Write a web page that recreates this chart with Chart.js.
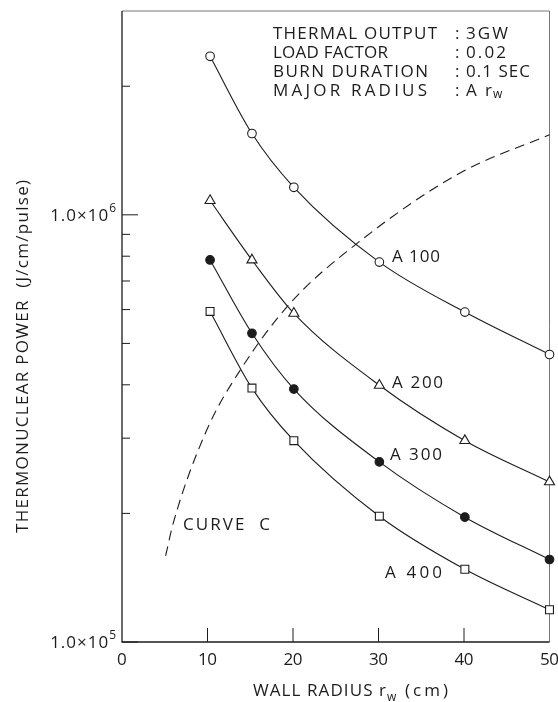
<!DOCTYPE html>
<html>
<head>
<meta charset="utf-8">
<script src="https://cdn.jsdelivr.net/npm/chart.js@4.4.0/dist/chart.umd.min.js"></script>
<style>
body { margin: 0; background: #fff; }
</style>
</head>
<body>
<canvas id="mycanvas" width="558" height="702"></canvas>
<script>
// wall radius (cm) of the measured points
var radius = [10.3, 15.2, 20.1, 30.1, 40.1, 50];
// thermonuclear power (J/cm/pulse) for each aspect factor A
var a100 = [2.35e6, 1.55e6, 1.16e6, 7.75e5, 5.92e5, 4.71e5];
var a200 = [1.08e6, 7.84e5, 5.88e5, 3.99e5, 2.96e5, 2.37e5];
var a300 = [7.84e5, 5.28e5, 3.91e5, 2.64e5, 1.96e5, 1.56e5];
var a400 = [5.94e5, 3.93e5, 2.96e5, 1.97e5, 1.48e5, 1.19e5];
// curve C (dashed)
var curveX = [5.1, 6.0, 9.9, 13.8, 19.65, 27.45, 39.6, 50];
var curveY = [1.59e5, 1.9e5, 3.13e5, 4.32e5, 6.2e5, 8.56e5, 1.255e6, 1.54e6];
// axis ticks
var xTicks = [0, 10, 20, 30, 40, 50];
var yMajor = [1e5, 1e6];
var yMinor = [2e5, 3e5, 4e5, 5e5, 6e5, 7e5, 8e5, 9e5, 2e6];
var yExp = ['5', '6'];
// parameter block
var noteNames = ['THERMAL OUTPUT', 'LOAD FACTOR', 'BURN DURATION', 'MAJOR RADIUS'];
var noteValues = ['3GW', '0.02', '0.1 SEC', 'Ar'];

var FAM = '"Open Sans", "DejaVu Sans", sans-serif';
var F17 = '17px ' + FAM;
var F12 = '12px ' + FAM;
var INK = '#1c1c1c';

function pts(xs, ys) {
	return ys.map(function(v, i) { return {x: xs[i], y: v}; });
}

// draw a string so that it spans the given width
function spaced(ctx, str, x, y, width) {
	var w = [], sum = 0, i;
	for (i = 0; i < str.length; i++) {
		w.push(ctx.measureText(str[i]).width);
		sum += w[i];
	}
	var gap = str.length > 1 ? (width - sum) / (str.length - 1) : 0;
	var cx = x;
	for (i = 0; i < str.length; i++) {
		ctx.fillText(str[i], cx, y);
		cx += w[i] + gap;
	}
}

var frame = {
	id: 'frame',
	beforeDatasetsDraw: function(chart) {
		var ctx = chart.ctx, a = chart.chartArea;
		var xs = chart.scales.x, ys = chart.scales.y;
		ctx.save();
		ctx.strokeStyle = '#777';
		ctx.lineWidth = 1;
		ctx.beginPath();
		ctx.moveTo(a.left, a.top);
		ctx.lineTo(a.right, a.top);
		ctx.lineTo(a.right, a.bottom);
		ctx.stroke();
		ctx.strokeStyle = INK;
		ctx.lineWidth = 1.3;
		ctx.beginPath();
		ctx.moveTo(a.left, a.top);
		ctx.lineTo(a.left, a.bottom);
		ctx.lineTo(a.right, a.bottom);
		ctx.stroke();
		ctx.lineWidth = 1;
		ctx.beginPath();
		xTicks.forEach(function(v) {
			if (v <= 0 || v >= 50) return;
			var px = xs.getPixelForValue(v);
			ctx.moveTo(px, a.bottom);
			ctx.lineTo(px, a.bottom - 14);
		});
		yMinor.forEach(function(v) {
			var py = ys.getPixelForValue(v);
			ctx.moveTo(a.left, py);
			ctx.lineTo(a.left + 8, py);
		});
		yMajor.forEach(function(v) {
			var py = ys.getPixelForValue(v);
			ctx.moveTo(a.left, py);
			ctx.lineTo(a.left + 16, py);
		});
		ctx.stroke();
		ctx.restore();
	},
	afterDraw: function(chart) {
		var ctx = chart.ctx, a = chart.chartArea;
		var xs = chart.scales.x, ys = chart.scales.y;
		ctx.save();
		ctx.fillStyle = INK;
		ctx.textBaseline = 'alphabetic';
		ctx.textAlign = 'left';
		ctx.font = F17;

		// x tick labels
		xTicks.forEach(function(v) {
			var s = String(v);
			var px = xs.getPixelForValue(v);
			var tw = s.length > 1 ? 19 : 10;
			spaced(ctx, s, px - tw / 2, a.bottom + 23, tw);
		});

		// y tick labels 1.0x10^n
		yMajor.forEach(function(v, i) {
			var py = ys.getPixelForValue(v);
			ctx.font = F12;
			var ew = ctx.measureText(yExp[i]).width;
			ctx.fillText(yExp[i], a.left - 6 - ew, py - 3);
			ctx.font = F17;
			spaced(ctx, '1.0\u00d710', a.left - 7 - ew - 58, py + 6, 58);
		});

		// axis titles
		spaced(ctx, 'WALL RADIUS r', 253, 696, 133);
		spaced(ctx, '(cm)', 405, 696, 43);
		ctx.font = F12;
		ctx.fillText('w', 387, 701);
		ctx.font = F17;

		ctx.save();
		ctx.translate(28, 533);
		ctx.rotate(-Math.PI / 2);
		spaced(ctx, 'THERMONUCLEAR POWER  (J/cm/pulse)', 0, 0, 353);
		ctx.restore();

		// parameter block
		var nameW = [164, 115, 155, 154];
		var valW = [42, 40, 64, 26];
		noteNames.forEach(function(n, i) {
			var by = 39 + i * 19;
			spaced(ctx, n, 273, by, nameW[i]);
			ctx.fillText(':', 455, by);
			spaced(ctx, noteValues[i], 466, by, valW[i]);
		});
		ctx.font = F12;
		ctx.fillText('w', 493, 98);
		ctx.font = F17;

		// curve labels
		spaced(ctx, 'A 100', 392, 262, 48);
		spaced(ctx, 'A 200', 392, 388, 51);
		spaced(ctx, 'A 300', 390, 460, 52);
		spaced(ctx, 'A 400', 385, 578, 57);
		spaced(ctx, 'CURVE  C', 183, 530, 87);
		ctx.restore();
	}
};

function series(label, ys, style, filled, size) {
	return {
		label: label,
		data: pts(radius, ys),
		showLine: true,
		borderColor: INK,
		borderWidth: 1.1,
		cubicInterpolationMode: 'monotone',
		pointStyle: style,
		pointRadius: size,
		pointBackgroundColor: filled ? INK : '#fff',
		pointBorderColor: INK,
		pointBorderWidth: 1.1,
		clip: false
	};
}

var ctx = document.getElementById('mycanvas');
var chart = new Chart(ctx, {
	type: 'scatter',
	data: {
		datasets: [
			series('A 100', a100, 'circle', false, 4.3),
			series('A 200', a200, 'triangle', false, 5.8),
			series('A 300', a300, 'circle', true, 4.3),
			series('A 400', a400, 'rect', false, 5.6),
			{
				label: 'CURVE C',
				data: pts(curveX, curveY),
				showLine: true,
				borderColor: INK,
				borderWidth: 1.1,
				borderDash: [10, 6],
				cubicInterpolationMode: 'monotone',
				pointRadius: 0,
				clip: false
			}
		]
	},
	options: {
		responsive: false,
		animation: false,
		events: [],
		layout: { padding: { top: 11, right: 8.5, left: 0, bottom: 0 } },
		plugins: { legend: { display: false }, tooltip: { enabled: false } },
		scales: {
			x: {
				type: 'linear', min: 0, max: 50,
				grid: { display: false, drawTicks: false },
				border: { display: false },
				ticks: { display: false },
				afterFit: function(s) { s.height = 60; }
			},
			y: {
				type: 'logarithmic', min: 1e5, max: 3e6,
				grid: { display: false, drawTicks: false },
				border: { display: false },
				ticks: { display: false },
				afterFit: function(s) { s.width = 122; }
			}
		}
	},
	plugins: [frame]
});
</script>
</body>
</html>
